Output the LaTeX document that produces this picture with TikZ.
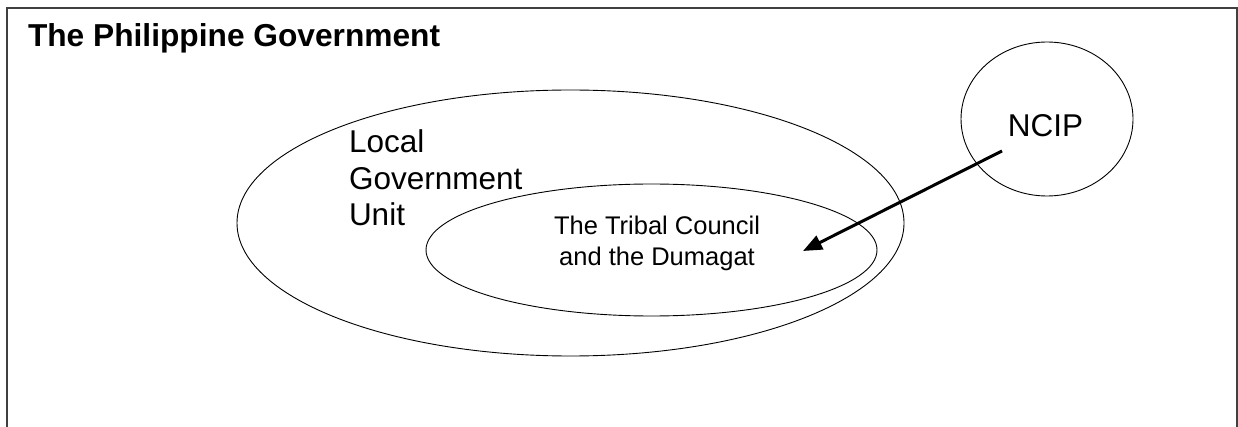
\documentclass[tikz,border=0pt]{standalone}
\usepackage{fontspec}
\setmainfont{Liberation Sans}
\usetikzlibrary{shapes.geometric,arrows.meta}
\begin{document}
\begin{tikzpicture}[x={(1pt,0)},y={(0,-1pt)},
  outline/.style={ellipse,draw,line width=0.9pt,inner sep=0pt,outer sep=0pt},
  label/.style={inner sep=0pt,outer sep=0pt},
  big/.style={font=\fontsize{31.5}{36.5}\selectfont},
  mid/.style={font=\fontsize{25.5}{31}\selectfont},
  ttl/.style={font=\fontsize{31.7}{36}\selectfont\bfseries},
  link/.style={line width=3pt,-{Triangle[length=19pt,width=15pt]}}]
  \useasboundingbox (0,0) rectangle (1238,427);
  % outer frame, open at the bottom
  \draw[line width=1.5pt,black!75] (7,440) -- (7,8) -- (1237,8) -- (1237,440);
  \node[label,ttl,anchor=base west] (title) at (28,47) {The Philippine Government};
  % nested bodies
  \node[outline,minimum width=667pt,minimum height=266pt] (lgu) at (570.5,223) {};
  \node[outline,minimum width=451pt,minimum height=132pt] (tribe) at (651.5,250) {};
  \node[outline,minimum width=172pt,minimum height=154pt] (ncip) at (1047,119) {};
  % texts (base anchor sits on the last line)
  \node[label,big,align=left,anchor=base west] (lgutext) at (349,226) {Local\\Government\\Unit};
  \node[label,mid,align=center,anchor=base] (tribetext) at (657,266) {The Tribal Council\\and the Dumagat};
  \node[label,big,anchor=base] (ncipx) at (1045.5,137) {NCIP};
  % influence arrow
  \coordinate (from) at (1002,151);
  \coordinate (to) at (803,251);
  \draw[link] (from) -- (to);
\end{tikzpicture}
\end{document}
